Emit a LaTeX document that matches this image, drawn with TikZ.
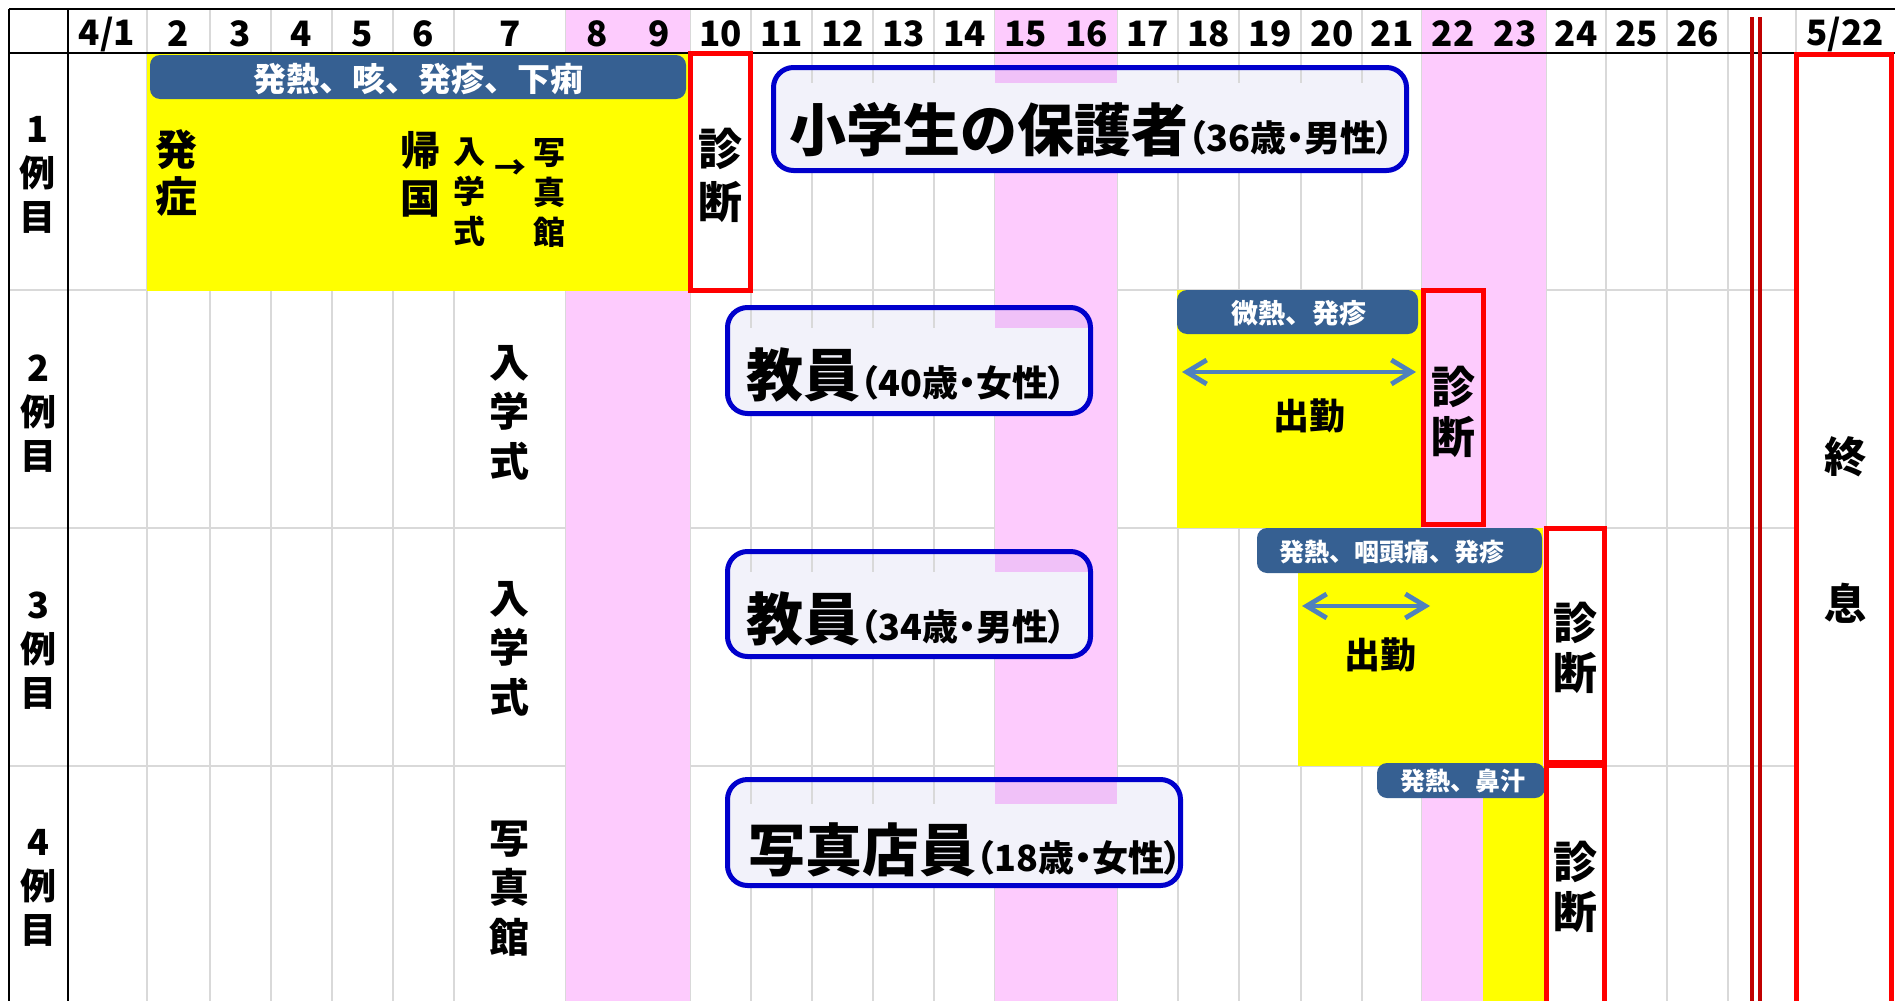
\documentclass[tikz,border=0pt]{standalone}
\usepackage{fontspec}
\usetikzlibrary{arrows.meta}
\newfontfamily\jp{Noto Sans CJK JP}
\newfontfamily\jpp[RawFeature=+palt]{Noto Sans CJK JP}
\newcommand{\jsz}[2]{\fontsize{#1}{#2}\selectfont}
\definecolor{gridc}{RGB}{217,217,217}
\definecolor{pinkc}{RGB}{253,203,253}
\definecolor{pinkdk}{RGB}{240,193,248}
\definecolor{lav}{RGB}{242,242,250}
\definecolor{cblue}{RGB}{0,0,204}
\definecolor{dkbox}{RGB}{54,96,146}
\definecolor{yel}{RGB}{255,255,0}
\definecolor{redc}{RGB}{255,0,0}
\definecolor{dkred}{RGB}{192,0,0}
\definecolor{arrc}{RGB}{79,129,189}
\begin{document}
\begin{tikzpicture}[x=0.5pt,y=-0.5pt,
  gridln/.style={draw=gridc,line width=1pt},
  blkln/.style={draw=black,line width=1.3pt},
  redbox/.style={draw=redc,line width=2.5pt},
  dkfill/.style={fill=dkbox,rounded corners=5pt},
  dktext/.style={text=white,inner sep=0pt},
  ctext/.style={anchor=west,inner sep=0pt,font=\jp\bfseries},
  vtx/.style={align=center,inner sep=0pt},
  hdr/.style={inner sep=0pt,font=\jp\bfseries\jsz{17.5pt}{17.5pt}},
  cbox/.style={draw=cblue,line width=2.5pt,rounded corners=10pt},
  barb/.tip={Straight Barb[length=10pt,width=12pt,line width=2.4pt]},
  dblarrow/.style={draw=arrc,line width=2pt,barb-barb},
]
\useasboundingbox (0,0) rectangle (1895,1001);
\clip (0,0) rectangle (1895,1001);
\fill[white] (0,0) rectangle (1895,1001);

% grid
\foreach \gx in {147,210,271,332,393,454,566,628,690,751,812,873,934,995,1056,1117,1178,1239,1301,1362,1422,1484,1546,1606,1667,1728,1796}
  \draw[gridln] (\gx,9) -- (\gx,1001);
\foreach \gy in {290,528,766}
  \draw[gridln] (9,\gy) -- (1796,\gy);

% pink columns
\fill[pinkc] (566,10) rectangle (690,1001);
\fill[pinkc] (995,10) rectangle (1117,1001);
\fill[pinkc] (1422,10) rectangle (1546,1001);

% yellow periods
\fill[yel] (147,53) rectangle (690,291);
\fill[yel] (1177,290) rectangle (1421,528);
\fill[yel] (1298,528) rectangle (1543,766);
\fill[yel] (1483,766) rectangle (1544,1001);

% black frame lines
\draw[blkln] (9,9) -- (1895,9);
\draw[blkln] (9,53) -- (1895,53);
\draw[blkln] (9,9) -- (9,1001);
\draw[blkln] (68,9) -- (68,1001);

% break mark
\draw[dkred,line width=1.6pt] (1752,17) -- (1752,1001);
\draw[dkred,line width=1.6pt] (1760,17) -- (1760,1001);

% header labels
\node[hdr] (h41) at (107,34) {4/1};
\foreach \cx/\lab in {178.5/2,240.5/3,301.5/4,362.5/5,423.5/6,510/7,597/8,659/9,720.5/10,781.5/11,842.5/12,903.5/13,964.5/14,1025.5/15,1086.5/16,1147.5/17,1208.5/18,1270/19,1332/20,1392/21,1453/22,1515/23,1576/24,1636.5/25,1697.5/26}
  \node[hdr] (h\lab) at (\cx,34) {\lab};
\node[hdr] (h522) at (1845,34) {5/22};

% row headers
\node[vtx,font=\jp\bfseries\jsz{18pt}{22pt}] (rh1) at (37,174.5) {1\\例\\目};
\node[vtx,font=\jp\bfseries\jsz{18pt}{22pt}] (rh2) at (38,413.5) {2\\例\\目};
\node[vtx,font=\jp\bfseries\jsz{18pt}{22pt}] (rh3) at (38,651) {3\\例\\目};
\node[vtx,font=\jp\bfseries\jsz{18pt}{22pt}] (rh4) at (38,888) {4\\例\\目};

% dark symptom boxes
\fill[dkfill] (150,55) rectangle (686,99);
\node[dktext,font=\jp\bfseries\jsz{16.5pt}{16.5pt}] (d1) at (418,79) {発熱、咳、発疹、下痢};
\fill[dkfill] (1177,290) rectangle (1418,334);
\node[dktext,font=\jp\bfseries\jsz{13.5pt}{13.5pt}] (d2) at (1299,313) {微熱、発疹};
\fill[dkfill] (1257,528) rectangle (1542,573);
\node[dktext,font=\jp\bfseries\jsz{12.5pt}{12.5pt}] (d3) at (1392,552) {発熱、咽頭痛、発疹};
\fill[dkfill] (1377,763) rectangle (1545,798);
\node[dktext,font=\jp\bfseries\jsz{12.5pt}{12.5pt}] (d4) at (1463,781) {発熱、鼻汁};

% red diagnosis boxes
\draw[redbox] (690.5,53.5) rectangle (750.5,290.5);
\draw[redbox] (1423.5,290.5) rectangle (1483.5,524.5);
\draw[redbox] (1546.5,528.5) rectangle (1604.5,762.5);
\draw[redbox] (1546.5,765.5) rectangle (1604.5,1010);
\draw[redbox] (1796.5,54.5) rectangle (1891.5,1010);

% row 1 texts
\node[vtx,font=\jp\bfseries\jsz{21pt}{23.5pt}] (t1a) at (176,173.5) {発\\症};
\node[vtx,font=\jp\bfseries\jsz{20pt}{24pt}] (t1b) at (420,174) {帰\\国};
\node[vtx,font=\jp\bfseries\jsz{16pt}{20pt}] (t1c) at (469,192.5) {入\\学\\式};
\node[inner sep=0pt,font=\jp\bfseries\jsz{16pt}{16pt}] (t1d) at (510,170) {→};
\node[vtx,font=\jp\bfseries\jsz{16pt}{20pt}] (t1e) at (549,193) {写\\真\\館};
\node[vtx,font=\jp\bfseries\jsz{22pt}{26.5pt}] (dg1) at (720,175) {診\\断};

% column 7 events
\node[vtx,font=\jp\bfseries\jsz{20pt}{24.75pt}] (e2) at (509,412.5) {入\\学\\式};
\node[vtx,font=\jp\bfseries\jsz{20pt}{24.75pt}] (e3) at (509,648.5) {入\\学\\式};
\node[vtx,font=\jp\bfseries\jsz{20pt}{24.75pt}] (e4) at (509,888.5) {写\\真\\館};

% diagnosis texts
\node[vtx,font=\jp\bfseries\jsz{22pt}{25pt}] (dg2) at (1453,412) {診\\断};
\node[vtx,font=\jp\bfseries\jsz{22pt}{25pt}] (dg3) at (1575,648) {診\\断};
\node[vtx,font=\jp\bfseries\jsz{22pt}{25pt}] (dg4) at (1575,887) {診\\断};

% attendance
\coordinate (a2l) at (1182,372);
\coordinate (a2r) at (1416,372);
\draw[dblarrow] (a2l) -- (a2r);
\node[inner sep=0pt,font=\jp\bfseries\jsz{18pt}{18pt}] (w2) at (1309,416) {出勤};
\coordinate (a3l) at (1302,606);
\coordinate (a3r) at (1430,606);
\draw[dblarrow] (a3l) -- (a3r);
\node[inner sep=0pt,font=\jp\bfseries\jsz{18pt}{18pt}] (w3) at (1380,655) {出勤};

% end
\node[inner sep=0pt,font=\jp\bfseries\jsz{21pt}{21pt}] (end1) at (1845,457) {終};
\node[inner sep=0pt,font=\jp\bfseries\jsz{21pt}{21pt}] (end2) at (1845,603) {息};

% callout 1
\begin{scope}
\clip[rounded corners=10pt] (773.5,67.5) rectangle (1406.5,170.5);
\fill[lav] (773.5,67.5) rectangle (1406.5,170.5);
\fill[pinkdk] (995,60) rectangle (1117,83);
\foreach \gx in {812,873,934,1178,1239,1301,1362} \draw[gridln] (\gx,60) -- (\gx,83);
\end{scope}
\draw[cbox] (773.5,67.5) rectangle (1406.5,170.5);
\node[ctext] (c1) at (789,130) {\jsz{28.5pt}{28.5pt}小学生の保護者\jpp\jsz{18pt}{18pt}（36歳・男性）};

% callout 2
\begin{scope}
\clip[rounded corners=10pt] (727.5,307.5) rectangle (1090.5,413.5);
\fill[lav] (727.5,307.5) rectangle (1090.5,413.5);
\fill[pinkdk] (995,300) rectangle (1117,328);
\foreach \gx in {751,812,873,934} \draw[gridln] (\gx,300) -- (\gx,328);
\end{scope}
\draw[cbox] (727.5,307.5) rectangle (1090.5,413.5);
\node[ctext] (c2) at (746,375) {\jsz{28.5pt}{28.5pt}教員\jpp\jsz{18pt}{18pt}（40歳・女性）};

% callout 3
\begin{scope}
\clip[rounded corners=10pt] (727.5,551.5) rectangle (1090.5,656.5);
\fill[lav] (727.5,551.5) rectangle (1090.5,656.5);
\fill[pinkdk] (995,540) rectangle (1117,572);
\foreach \gx in {751,812,873,934} \draw[gridln] (\gx,540) -- (\gx,572);
\end{scope}
\draw[cbox] (727.5,551.5) rectangle (1090.5,656.5);
\node[ctext] (c3) at (746,619) {\jsz{28.5pt}{28.5pt}教員\jpp\jsz{18pt}{18pt}（34歳・男性）};

% callout 4
\begin{scope}
\clip[rounded corners=10pt] (727.5,779.5) rectangle (1180.5,885.5);
\fill[lav] (727.5,779.5) rectangle (1180.5,885.5);
\fill[pinkdk] (995,770) rectangle (1117,804);
\foreach \gx in {751,812,873,934} \draw[gridln] (\gx,770) -- (\gx,804);
\end{scope}
\draw[cbox] (727.5,779.5) rectangle (1180.5,885.5);
\node[ctext] (c4) at (748,850) {\jsz{28.5pt}{28.5pt}写真店員\jpp\jsz{18pt}{18pt}（18歳・女性）};
\end{tikzpicture}
\end{document}
